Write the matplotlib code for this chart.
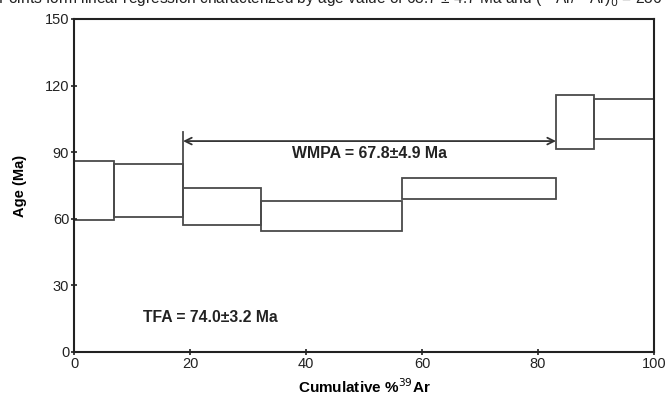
import matplotlib.pyplot as plt
from matplotlib.patches import Rectangle

plt.rcParams['font.family'] = ['Liberation Sans', 'DejaVu Sans']

# step boundaries (cumulative %39Ar) and age ranges (Ma)
edges = [0, 6.9, 18.8, 32.2, 56.5, 83.1, 89.7, 100]
age_lo = [59.5, 61.0, 57.4, 54.4, 68.7, 91.3, 95.8]
age_hi = [86.0, 84.5, 74.0, 68.0, 78.4, 115.7, 113.9]

plateau_start = 18.8
plateau_end = 83.1
plateau_y = 95
wmpa_label = 'WMPA = 67.8±4.9 Ma'
tfa_label = 'TFA = 74.0±3.2 Ma'
caption = ('Points form linear regression characterized by age value of 68.7 ± 4.7 Ma '
           'and ($^{40}$Ar/$^{36}$Ar)$_0$ = 286')

fig = plt.figure(figsize=(6.67, 4.03), dpi=100)
ax = fig.add_axes([0.111, 0.1266, 0.8695, 0.8263])

for i in range(len(age_lo)):
    ax.add_patch(Rectangle((edges[i], age_lo[i]), edges[i + 1] - edges[i],
                           age_hi[i] - age_lo[i], fill=False,
                           edgecolor='#4a4a4a', linewidth=1.3))

# plateau marker
ax.plot([plateau_start, plateau_start], [age_hi[2], 99], color='#4a4a4a', lw=1.3)
ax.annotate('', xy=(plateau_start, plateau_y), xytext=(plateau_end, plateau_y),
            arrowprops=dict(arrowstyle='<->', color='#333333', lw=1.3,
                            shrinkA=0, shrinkB=0, mutation_scale=12))
ax.text(51, 89.5, wmpa_label, ha='center', va='center', fontsize=11.4,
        fontweight='bold', color='#222222')
ax.text(11.9, 15.4, tfa_label, ha='left', va='center', fontsize=11.3,
        fontweight='bold', color='#222222')

ax.set_xlim(0, 100)
ax.set_ylim(0, 150)
ax.set_xticks([0, 20, 40, 60, 80, 100])
ax.set_yticks([0, 30, 60, 90, 120, 150])
ax.tick_params(direction='inout', length=5, width=1.2, labelsize=10.5,
               colors='#222222', pad=1)
for s in ax.spines.values():
    s.set_linewidth(1.5)
    s.set_color('#222222')

ax.set_xlabel('Cumulative %$^{39}$Ar', fontsize=11, fontweight='bold', labelpad=5)
ax.set_ylabel('Age (Ma)', fontsize=10.5, fontweight='bold', labelpad=13)

fig.text(-0.003, 0.99, caption, ha='left', va='baseline', fontsize=11.2, color='#222222')

fig.savefig('out.png', dpi=100)
